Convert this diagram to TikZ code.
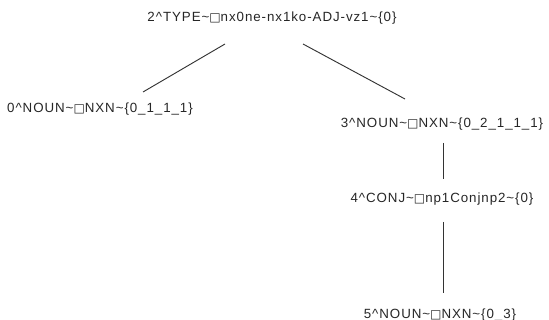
\documentclass[tikz,border=0pt]{standalone}
\usepackage{fontspec}
\setmainfont{Liberation Sans}[LetterSpace=7]
\newfontfamily\symfont{DejaVu Sans}[LetterSpace=7,Scale=0.9]
\newcommand{\sq}{{\symfont\char"25A1}}
\newcommand{\tl}{\textasciitilde}
\newcommand{\ca}{\textasciicircum}
\begin{document}
\begin{tikzpicture}[x=0.75pt,y=-0.75pt,
  lbl/.style={inner sep=0pt,font=\fontsize{10}{11}\selectfont,text=black!85},
  edge/.style={draw=black!80,line width=0.7pt}]
\useasboundingbox (0,0) rectangle (549,320);
\node[lbl] (n2) at (272,18) {2\ca TYPE\tl\sq nx0ne-nx1ko-ADJ-vz1\tl\{0\}};
\node[lbl] (n0) at (100,109) {0\ca NOUN\tl\sq NXN\tl\{0\_1\_1\_1\}};
\node[lbl] (n3) at (442,124) {3\ca NOUN\tl\sq NXN\tl\{0\_2\_1\_1\_1\}};
\node[lbl] (n4) at (442,199) {4\ca CONJ\tl\sq np1Conjnp2\tl\{0\}};
\node[lbl] (n5) at (440,315) {5\ca NOUN\tl\sq NXN\tl\{0\_3\}};
\draw[edge] ([shift={(-47,26)}]n2.center) -- ([shift={(43,-17)}]n0.center);
\draw[edge] ([shift={(31,26)}]n2.center) -- ([shift={(-37,-25)}]n3.center);
\draw[edge] ([shift={(1,19)}]n3.center) -- ([shift={(1,-20)}]n4.center);
\draw[edge] ([shift={(1,23)}]n4.center) -- ([shift={(3,-22)}]n5.center);
\end{tikzpicture}
\end{document}
